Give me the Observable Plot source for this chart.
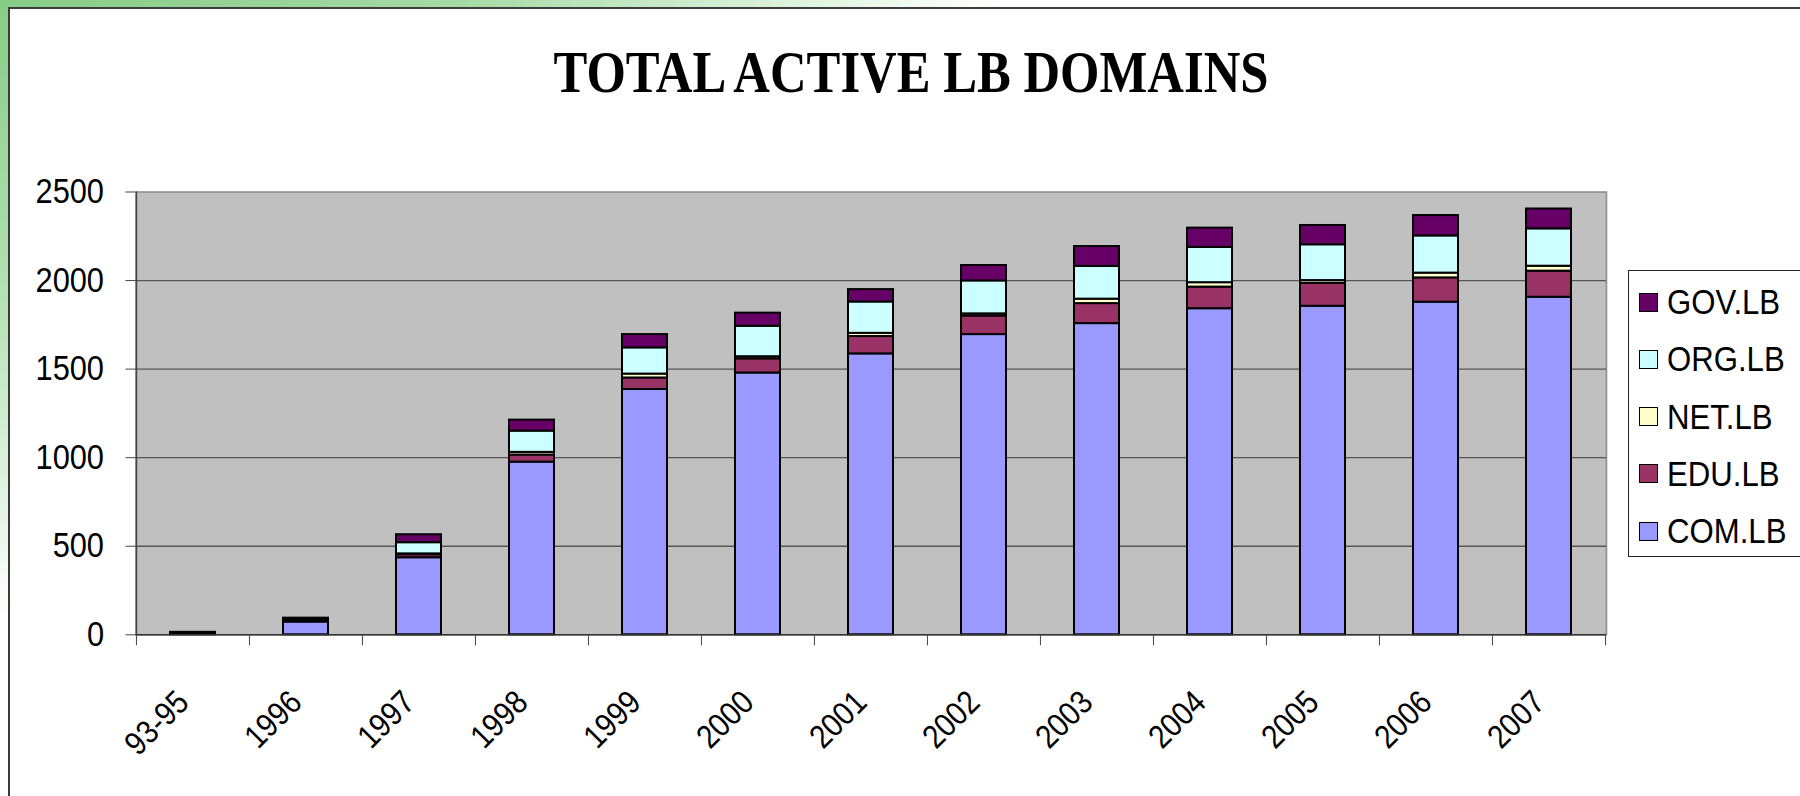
<!DOCTYPE html>
<html><head><meta charset="utf-8">
<script src="https://cdn.jsdelivr.net/npm/d3@7"></script>
<script src="https://cdn.jsdelivr.net/npm/@observablehq/plot@0.6"></script>
<style>
html,body{margin:0;padding:0;background:#fff;overflow:hidden;}
#wrap{position:relative;width:1800px;height:796px;overflow:hidden;font-family:"Liberation Sans",Arial,sans-serif;}
#topstrip{position:absolute;left:0;top:0;width:1000px;height:7px;background:linear-gradient(to right,#86cc86 0%,#a4daa4 45%,#d6f0d6 75%,#ffffff 100%);}
#leftstrip{position:absolute;left:0;top:0;width:8px;height:620px;background:linear-gradient(to bottom,#86cc86 0%,#b0e0b0 45%,#ffffff 100%);}
#hline{position:absolute;left:8px;top:7px;width:1792px;height:2px;background:#3c3c3c;}
#vline{position:absolute;left:8px;top:7px;width:2px;height:789px;background:#3c3c3c;}
#chart{position:absolute;left:0;top:0;}
#title{position:absolute;left:0;top:0;}
#legend{position:absolute;left:1628px;top:270px;width:200px;height:287px;border:1px solid #222;background:#fff;box-sizing:border-box;}
.item{position:absolute;left:10px;height:40px;display:flex;align-items:center;color:#000;white-space:nowrap;}
.sw{width:17px;height:17px;border:1.5px solid #000;margin-right:9px;flex:none;}
.lt{display:inline-block;font-size:35px;line-height:40px;transform:scaleX(0.89);transform-origin:0 50%;}
</style></head>
<body>
<div id="wrap">
  <div id="topstrip"></div>
  <div id="leftstrip"></div>
  <div id="hline"></div>
  <div id="vline"></div>
  <div id="chart"></div>
  <svg id="title" width="1800" height="120"><text x="911" y="92" text-anchor="middle" font-family="'Liberation Serif','Times New Roman',serif" font-weight="bold" font-size="60" textLength="715" lengthAdjust="spacingAndGlyphs">TOTAL ACTIVE LB DOMAINS</text></svg>
  <div id="legend"></div>
</div>
<script>
const categories = ["93-95","1996","1997","1998","1999","2000","2001","2002","2003","2004","2005","2006","2007"];
const seriesNames = ["COM.LB","EDU.LB","NET.LB","ORG.LB","GOV.LB"];
const seriesColors = ["#9999FF","#993366","#FFFFCC","#CCFFFF","#660066"];
const comLB = [10, 72, 435, 975, 1385, 1478, 1586, 1695, 1757, 1841, 1855, 1878, 1906];
const eduLB = [1, 4, 17, 40, 65, 80, 98, 105, 113, 122, 130, 137, 147];
const netLB = [0, 1, 5, 15, 22, 12, 18, 12, 25, 25, 15, 27, 28];
const orgLB = [2, 10, 63, 120, 148, 172, 177, 186, 185, 199, 202, 210, 211];
const govLB = [1, 7, 45, 62, 75, 74, 70, 87, 112, 109, 109, 115, 112];
const yTicks = [0, 500, 1000, 1500, 2000, 2500];

const seriesValues = [comLB, eduLB, netLB, orgLB, govLB];
const data = [];
categories.forEach((c, i) => {
  seriesNames.forEach((s, j) => data.push({year: c, series: s, value: seriesValues[j][i]}));
});

const W = 1800, H = 796, mL = 135.5, mR = 194, mT = 191.5, mB = 161.7;
const step = (W - mL - mR) / categories.length;
const font = '"Liberation Sans", Arial, sans-serif';

const chart = Plot.plot({
  width: W, height: H,
  marginLeft: mL, marginRight: mR, marginTop: mT, marginBottom: mB,
  style: {fontFamily: font, background: "transparent", color: "#000", overflow: "visible"},
  x: {type: "band", domain: categories, paddingInner: 0.6, paddingOuter: 0.3, label: null},
  y: {domain: [0, 2500], label: null},
  color: {domain: seriesNames, range: seriesColors},
  marks: [
    Plot.frame({fill: "#c0c0c0", stroke: "#8a8a8a", strokeWidth: 1.5}),
    Plot.gridY(yTicks.filter(v => v > 0 && v < 2500), {stroke: "#555", strokeOpacity: 1, strokeWidth: 1.3}),
    Plot.barY(data, {x: "year", y: "value", fill: "series", stroke: "#000", strokeWidth: 2}),
    Plot.ruleY([0], {stroke: "#333", strokeWidth: 1.5}),
    Plot.ruleX([categories[0]], {dx: -step / 2, stroke: "#444", strokeWidth: 1.5}),
    Plot.axisY(yTicks, {tickSize: 10, tickPadding: 22, fontSize: 35, tickFormat: d => String(d), label: null, stroke: "#444"}),
    Plot.axisX(categories, {tickSize: 11, tickFormat: () => "", dx: -step / 2, label: null, stroke: "#444"}),
    Plot.axisX([categories[categories.length - 1]], {tickSize: 11, tickFormat: () => "", dx: step / 2, label: null, stroke: "#444"}),
    Plot.axisX(categories, {tickSize: 0, tickRotate: -45, tickPadding: 53, textAnchor: "end", lineAnchor: "top", dx: -19, fontSize: 33, label: null})
  ]
});
// condense tick label glyphs horizontally (as in the reference)
chart.querySelectorAll('g[aria-label="y-axis tick label"] text, g[aria-label="x-axis tick label"] text').forEach(t => {
  const tr = t.getAttribute("transform") || "";
  t.setAttribute("transform", tr + " scale(0.88,1)");
});
document.getElementById("chart").appendChild(chart);

// legend (top to bottom: reverse stack order)
const legend = document.getElementById("legend");
const order = seriesNames.map((s, i) => i).reverse();
order.forEach((idx, k) => {
  const item = document.createElement("div");
  item.className = "item";
  item.style.top = (11 + k * 57.25) + "px";
  const sw = document.createElement("div");
  sw.className = "sw";
  sw.style.background = seriesColors[idx];
  const t = document.createElement("span");
  t.className = "lt";
  t.textContent = seriesNames[idx];
  item.appendChild(sw); item.appendChild(t);
  legend.appendChild(item);
});
</script>
</body></html>
